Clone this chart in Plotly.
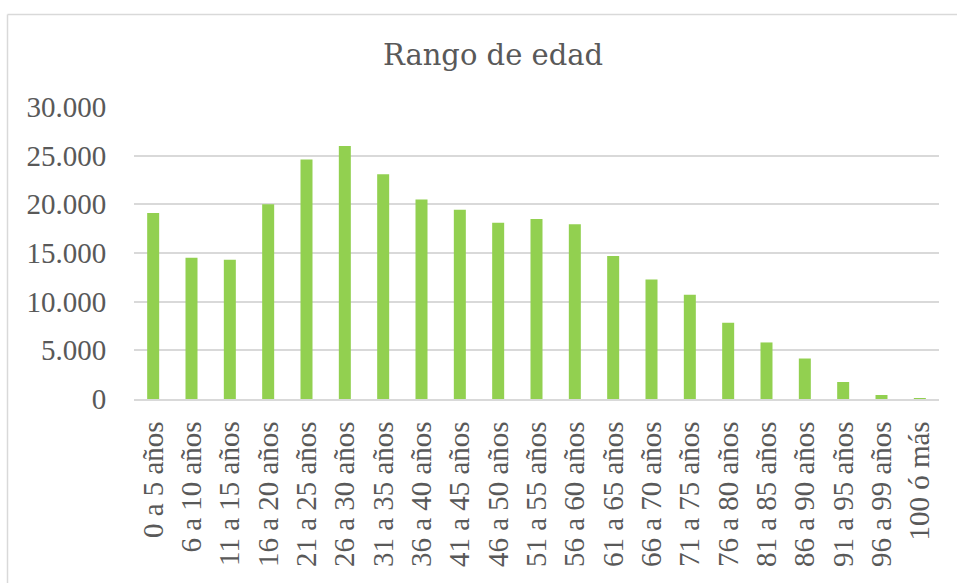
import plotly.graph_objects as go

# Datos: población por rango de edad
rangos = ["0 a 5 años", "6 a 10 años", "11 a 15 años", "16 a 20 años", "21 a 25 años",
          "26 a 30 años", "31 a 35 años", "36 a 40 años", "41 a 45 años", "46 a 50 años",
          "51 a 55 años", "56 a 60 años", "61 a 65 años", "66 a 70 años", "71 a 75 años",
          "76 a 80 años", "81 a 85 años", "86 a 90 años", "91 a 95 años", "96 a 99 años",
          "100 ó más"]
personas = [19100, 14500, 14300, 20000, 24600, 26000, 23100, 20500, 19450, 18100,
            18500, 17950, 14700, 12270, 10720, 7840, 5810, 4160, 1750, 410, 100]
ticks_y = [0, 5000, 10000, 15000, 20000, 25000, 30000]

W, H = 957, 583
L, R, T, B = 134, 18, 107, 184
pw = W - L - R
ph = H - T - B

def px_x(x):
    return (x - L) / pw

def px_y(y):
    return (H - B - y) / ph

gris_txt = "#595959"
gris_lin = "#D9D9D9"

fig = go.Figure()
fig.add_trace(go.Bar(
    x=rangos, y=personas,
    marker=dict(color="#92D050", line=dict(width=0)),
    hoverinfo="x+y",
))

fig.update_layout(
    width=W, height=H,
    margin=dict(l=L, r=R, t=T, b=B, autoexpand=False),
    paper_bgcolor="white",
    plot_bgcolor="white",
    separators=",.",
    bargap=0.687,
    showlegend=False,
    font=dict(family="Liberation Serif", color=gris_txt, size=29),
    title=dict(
        text="Rango de edad",
        font=dict(family="DejaVu Serif", size=29, color=gris_txt),
        x=493 / W, xref="container", xanchor="center",
        y=1 - 55 / H, yref="container", yanchor="middle",
    ),
    xaxis=dict(
        automargin=False,
        tickangle=-90,
        showgrid=False,
        showline=True, linecolor=gris_lin, linewidth=1.5,
        ticks="outside", ticklen=9, tickcolor="rgba(0,0,0,0)",
        tickfont=dict(size=29),
    ),
    yaxis=dict(
        automargin=False,
        range=[0, 30000],
        tickvals=ticks_y,
        tickformat=",d",
        showgrid=True, gridcolor=gris_lin, gridwidth=1.5,
        zeroline=False, showline=False,
        ticks="outside", ticklen=21, tickcolor="rgba(0,0,0,0)",
        tickfont=dict(size=29),
    ),
    shapes=[
        dict(type="line", xref="paper", yref="paper",
             x0=px_x(7.5), x1=px_x(957), y0=px_y(14.5), y1=px_y(14.5),
             line=dict(color=gris_lin, width=1.5)),
        dict(type="line", xref="paper", yref="paper",
             x0=px_x(7.5), x1=px_x(7.5), y0=px_y(14.5), y1=px_y(583),
             line=dict(color=gris_lin, width=1.5)),
    ],
)

# sin margen del body para que la figura ocupe toda la ventana
fig.write_html("out.html", config={"displayModeBar": False},
               post_script="document.body.style.margin='0';document.body.style.overflow='hidden';")
